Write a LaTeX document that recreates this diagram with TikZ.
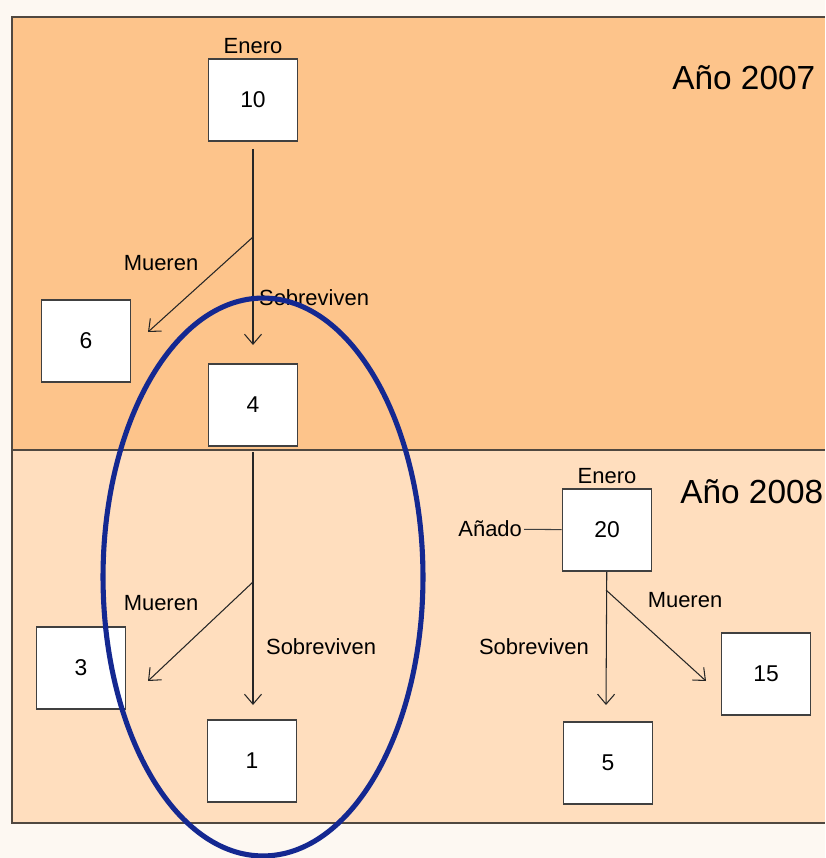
\documentclass[tikz,border=0pt]{standalone}
\usepackage{fontspec}
\setmainfont{Liberation Sans}
\usetikzlibrary{arrows.meta,positioning}

\definecolor{paper}{RGB}{253,248,242}
\definecolor{year7fill}{RGB}{253,196,139}
\definecolor{year8fill}{RGB}{255,222,190}
\definecolor{frameline}{RGB}{80,72,64}
\definecolor{ringblue}{RGB}{20,40,145}

\begin{document}
\begin{tikzpicture}
                    [x=0.02cm, y=-0.02cm,
                    box/.style={rectangle,
                        minimum width=1.78cm, minimum height=1.64cm,
                        fill=white, draw=black!75, line width=0.9pt,
                        font=\fontsize{13}{15}\selectfont},
                    lbl/.style={inner sep=1pt,
                        font=\fontsize{12.5}{14}\selectfont},
                    yr/.style={inner sep=0pt,
                        font=\fontsize{19}{22}\selectfont},
                    flow/.style={black!85, line width=0.6pt,
                        -{Straight Barb[length=2mm,width=3.4mm]}},
                    ring/.style={ringblue, line width=2.9pt}]

                    % canvas and the two year panels
                    \useasboundingbox[fill=paper] (0,0) rectangle (825,858);
                    \fill[year7fill] (12,17) rectangle (825,450);
                    \fill[year8fill] (12,450) rectangle (825,823);
                    \draw[frameline, line width=1.1pt]
                        (825,17) -- (12,17) -- (12,823) -- (825,823);
                    \draw[frameline, line width=1.1pt] (12,450) -- (825,450);

                    \node[yr, anchor=west] (y7) at (672,78) {Año 2007};
                    \node[yr, anchor=west] (y8) at (680,492) {Año 2008};

                    % 2007
                    \node[box] (n10) at (253,100) {10};
                    \node[lbl, above=0.5mm of n10] (ene7) {Enero};
                    \node[box] (n6) at (86,341) {6};
                    \node[box] (n4) at (253,405) {4};
                    \coordinate (b7) at (253,237);
                    \coordinate (t6) at (148,332);
                    \coordinate (t4) at (253,345);
                    \node[lbl] (mu7) at (161,263) {Mueren};
                    \node[lbl, anchor=west] (so7) at (257,298) {Sobreviven};

                    % 2008, left branch
                    \node[box] (n3) at (81,668) {3};
                    \node[box] (n1) at (252,761) {1};
                    \coordinate (b8) at (253,582);
                    \coordinate (t3) at (148,681);
                    \coordinate (t1) at (253,705);
                    \node[lbl] (mu8) at (161,603) {Mueren};
                    \node[lbl, anchor=west] (so8) at (264,647) {Sobreviven};

                    % 2008, new ones
                    \node[box] (n20) at (607,530) {20};
                    \node[lbl, above=0.5mm of n20] (ene8) {Enero};
                    \node[lbl, anchor=east] (add) at (524,529) {Añado};
                    \node[box] (n5) at (608,763) {5};
                    \node[box] (n15) at (766,674) {15};
                    \coordinate (b20) at (606,590);
                    \coordinate (t5) at (606,705);
                    \coordinate (t15) at (706,681);
                    \node[lbl] (mu20) at (685,600) {Mueren};
                    \node[lbl, anchor=east] (so20) at (591,647) {Sobreviven};

                    \draw[flow, shorten <=1.4mm] (n10) -- (t4);
                    \draw[flow] (b7) -- (t6);
                    \draw[flow, shorten <=1mm] (n4) -- (t1);
                    \draw[flow] (b8) -- (t3);
                    \draw[flow] (n20) -- (t5);
                    \draw[flow] (b20) -- (t15);
                    \draw[black!75, line width=0.6pt] (add) -- (n20);

                    % the followed group
                    \draw[ring] (263,577) ellipse [x radius=3.2cm, y radius=5.58cm];
                \end{tikzpicture}
\end{document}
